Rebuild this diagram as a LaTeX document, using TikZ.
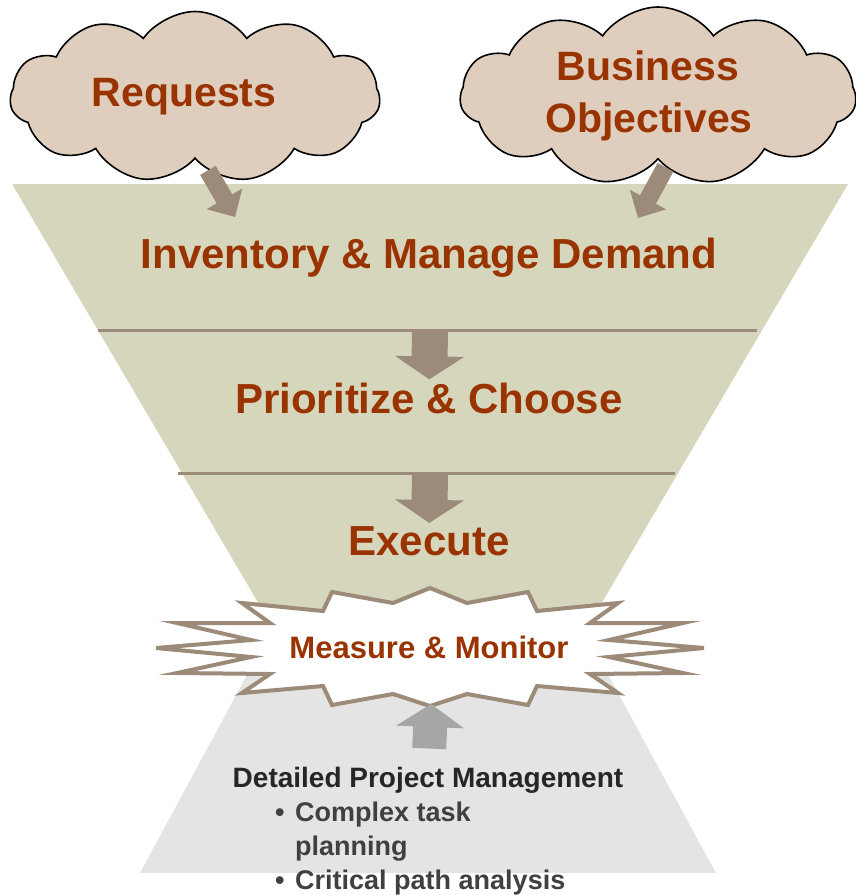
\documentclass[tikz,border=0pt]{standalone}
\usepackage{fontspec}
\setmainfont{Liberation Sans}
\usetikzlibrary{arrows.meta,positioning,shapes.symbols}
\definecolor{funneltan}{RGB}{214,214,188}
\definecolor{cloudfill}{RGB}{223,206,189}
\definecolor{rust}{RGB}{153,51,0}
\definecolor{taupe}{RGB}{156,139,121}
\definecolor{lightgrey}{RGB}{228,228,228}
\definecolor{midgrey}{RGB}{166,166,166}
\definecolor{inkgrey}{RGB}{38,38,38}
\definecolor{bulletgrey}{RGB}{64,64,64}
\tikzstyle{stage} = [text=rust, font=\bfseries\fontsize{42}{50}\selectfont,
    inner sep=3pt, anchor=base]
\tikzstyle{bubble} = [cloud, cloud puffs=11, cloud puff arc=110, cloud ignores aspect,
    draw=black, line width=1.6pt, fill=cloudfill, text=rust, align=center, inner sep=0pt,
    font=\bfseries\fontsize{41}{52}\selectfont]
\tikzstyle{stagearrow} = [draw=taupe, line width=36pt, -{Triangle[width=68pt,length=23pt]}]
\tikzstyle{cloudarrow} = [draw=taupe, line width=18pt, -{Triangle[width=40pt,length=21pt]}]
\tikzstyle{greyarrow} = [draw=midgrey, line width=34pt, -{Triangle[width=67pt,length=23pt]}]
\tikzstyle{divider} = [draw=taupe, line width=3pt]
\tikzstyle{burst} = [draw=taupe, line width=4pt, fill=white]
\begin{document}
\begin{tikzpicture}[x=1pt, y=-1pt]
    \useasboundingbox (0,0) rectangle (856,895);
    % funnel and base
    \fill[funneltan] (12,184) -- (848,184) -- (574,650) -- (286,650) -- cycle;
    \fill[lightgrey] (255,660) -- (600,660) -- (716,873) -- (140,873) -- cycle;
    \draw[divider] (98,330) -- (757,330);
    \draw[divider] (178,473) -- (675,473);
    \coordinate (div1) at (430,330);
    \coordinate (div2) at (430,473);

    \node[bubble, minimum width=370pt, minimum height=171pt] (req) at (195,97) {Requests\hspace*{22pt}};
    \node[bubble, minimum width=396pt, minimum height=178pt] (biz) at (658,96)
        {Business\hspace*{20pt}\\Objectives\hspace*{18pt}};

    \node[stage] (inv) at (429,268) {Inventory \& Manage Demand};
    \node[stage, below=145pt of inv.base, anchor=base] (prio) {Prioritize \& Choose};
    \node[stage, below=142pt of prio.base, anchor=base] (exec) {Execute};

    \coordinate (reqtip) at (235,217);
    \coordinate (biztip) at (638,218);
    \draw[cloudarrow] (req.-80) -- (reqtip);
    \draw[cloudarrow] (biz.-84) -- (biztip);
    \draw[stagearrow] (div1) -- (prio);
    \draw[stagearrow] (div2) -- (exec);

    % starburst
    \draw[burst, shift={(430,648)}] (0,-60) -- (37,-45) -- (98,-56) -- (107,-37)
        -- (188,-45) -- (160,-25) -- (253,-25) -- (179,-8) -- (274,0) -- (179,9)
        -- (253,25) -- (160,26) -- (188,45) -- (107,38) -- (98,57) -- (37,46)
        -- (0,58) -- (-37,46) -- (-98,57) -- (-107,38) -- (-188,45) -- (-160,26)
        -- (-253,25) -- (-179,9) -- (-274,0) -- (-179,-8) -- (-253,-25) -- (-160,-25)
        -- (-188,-45) -- (-107,-37) -- (-98,-56) -- (-37,-45) -- cycle;
    \node[stage, font=\bfseries\fontsize{31}{36}\selectfont,
        below=103pt of exec.base, anchor=base] (meas) {Measure \& Monitor};

    % detailed planning
    \node[anchor=base, text=inkgrey, inner sep=2pt,
        font=\bfseries\fontsize{28}{32}\selectfont] (dpm) at (428,787) {Detailed Project Management};
    \coordinate (burstfoot) at (431,704);
    \draw[greyarrow, shorten <=16pt] (dpm) -- (burstfoot);
    \node[anchor=base west, text=bulletgrey, align=left, inner sep=0pt,
        font=\bfseries\fontsize{27}{34}\selectfont] (tasks) at (275,889)
        {\makebox[20pt][l]{\textbullet}Complex task\\
         \hspace*{20pt}planning\\
         \makebox[20pt][l]{\textbullet}Critical path analysis};
\end{tikzpicture}
\end{document}
